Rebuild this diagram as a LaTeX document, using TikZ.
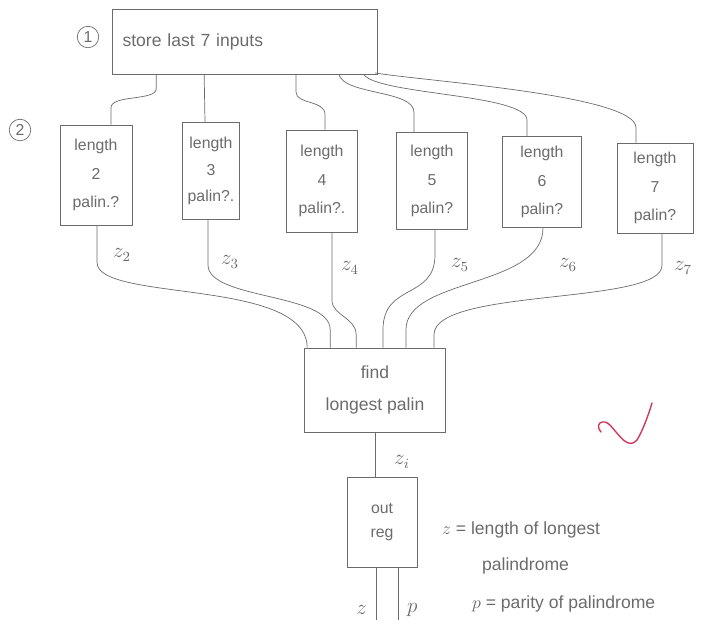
\documentclass[tikz,border=0pt]{standalone}
\usepackage{fontspec}
\setmainfont{Liberation Sans}
\usetikzlibrary{positioning,calc}
\definecolor{pencil}{gray}{0.42}
\definecolor{checkred}{RGB}{205,60,95}

\begin{document}
\begin{tikzpicture}[
  x=0.02cm, y=-0.02cm,
  box/.style={draw=pencil, thin, align=center, text=pencil, font=\small, inner sep=2pt},
  wire/.style={draw=pencil, thin},
  lbl/.style={text=pencil, font=\large, inner sep=1pt},
  num/.style={circle, draw=pencil, thin, text=pencil, font=\small, inner sep=1.5pt},
]
\useasboundingbox (0,0) rectangle (720,627);

% === Step 1: input register ===
\node[box, minimum width=5.3cm, minimum height=1.3cm, text width=4.9cm, align=left, font=\normalsize] (store) at (245,42) {store last 7 inputs\\[10pt]};
\node[num] (one) at (88,37) {1};

% === Step 2: palindrome checkers ===
\node[num] (two) at (20,130) {2};
\node[box, minimum width=1.44cm, minimum height=2.0cm] (len2) at (96,175) {length\\[5pt]2\\[5pt]palin.?};
\node[box, minimum width=1.14cm, minimum height=1.94cm] (len3) at (211,171) {length\\[4pt]3\\[4pt]palin?.};
\node[box, minimum width=1.42cm, minimum height=2.04cm] (len4) at (322,181) {length\\[5pt]4\\[5pt]palin?.};
\node[box, minimum width=1.42cm, minimum height=1.94cm] (len5) at (432,181) {length\\[5pt]5\\[5pt]palin?};
\node[box, minimum width=1.58cm, minimum height=1.82cm] (len6) at (542,182) {length\\[5pt]6\\[5pt]palin?};
\node[box, minimum width=1.52cm, minimum height=1.8cm] (len7) at (655,188) {length\\[5pt]7\\[5pt]palin?};

\draw[wire] ($(store.south west)+(44,0)$) -- ++(0,14) .. controls ++(0,12) and ($(len2.north)+(15,-30)$) .. ($(len2.north)+(15,-17)$) -- ($(len2.north)+(15,0)$);
\draw[wire] ($(store.south west)+(92,0)$) -- ($(len3.north)+(-6,0)$);
\draw[wire] ($(store.south)+(51,0)$) -- ++(0,17) .. controls ++(0,13) and ($(len4.north)+(3,-30)$) .. ($(len4.north)+(3,-15)$) -- ($(len4.north)+(3,0)$);
\draw[wire] ($(store.south)+(94,0)$) .. controls ++(6,20) and ($(len5.north)+(-18,-42)$) .. ($(len5.north)+(-18,-20)$) -- ($(len5.north)+(-18,0)$);
\draw[wire] ($(store.south)+(119,0)$) .. controls ++(16,20) and ($(len6.north)+(-15,-42)$) .. ($(len6.north)+(-15,-16)$) -- ($(len6.north)+(-15,0)$);
\draw[wire] ($(store.south east)+(-3,-2)$) .. controls ++(45,8) and ($(len7.north)+(-19,-48)$) .. ($(len7.north)+(-19,-15)$) -- ($(len7.north)+(-19,0)$);

% === Step 3: pick the longest ===
\node[box, minimum width=2.82cm, minimum height=1.68cm, font=\normalsize] (find) at (375,390) {find\\[6pt]longest palin};

\draw[wire] ($(len2.south)+(1,0)$) -- ++(0,37) .. controls ++(0,40) and ($(find.north west)+(3,-70)$) .. ($(find.north west)+(3,0)$);
\draw[wire] ($(len3.south)+(-3,0)$) -- ++(0,45) .. controls ++(0,35) and ($(find.north west)+(26,-55)$) .. ($(find.north west)+(26,-18)$) -- ($(find.north west)+(26,0)$);
\draw[wire] ($(len4.south)+(10,0)$) -- ++(0,68) .. controls ++(0,15) and ($(find.north west)+(52,-30)$) .. ($(find.north west)+(52,-13)$) -- ($(find.north west)+(52,0)$);
\draw[wire] ($(len5.south)+(3,0)$) -- ++(0,25) .. controls ++(0,45) and ($(find.north)+(8,-65)$) .. ($(find.north)+(8,-18)$) -- ($(find.north)+(8,0)$);
\draw[wire] ($(len6.south)+(1,0)$) .. controls ++(0,60) and ($(find.north)+(31,-70)$) .. ($(find.north)+(31,-18)$) -- ($(find.north)+(31,0)$);
\draw[wire] ($(len7.south)+(7,0)$) -- ++(0,32) .. controls ++(0,40) and ($(find.north)+(59,-60)$) .. ($(find.north)+(59,-13)$) -- ($(find.north)+(59,0)$);

\node[lbl] (z2) at (122,255) {$z_2$};
\node[lbl] (z3) at (230,262) {$z_3$};
\node[lbl] (z4) at (350,268) {$z_4$};
\node[lbl] (z5) at (460,265) {$z_5$};
\node[lbl] (z6) at (568,265) {$z_6$};
\node[lbl] (z7) at (683,268) {$z_7$};

% === Output register ===
\node[box, minimum width=1.4cm, minimum height=1.8cm] (outreg) at (382,522) {out\\[3pt]reg};
\draw[wire] (find.south) -- (find.south |- outreg.north);
\node[lbl] (zi) at (402,462) {$z_i$};

\coordinate (zend) at ($(outreg.south)+(-6,53)$);
\coordinate (pend) at ($(outreg.south)+(16,53)$);
\draw[wire] (outreg.south -| zend) -- (zend);
\draw[wire] (outreg.south -| pend) -- (pend);
\node[lbl, left=4pt of zend, yshift=6pt] (zout) {$z$};
\node[lbl, right=4pt of pend, yshift=6pt] (pout) {$p$};

% === Legend ===
\node[lbl, anchor=west, font=\normalsize] (key1) at (440,530) {$z$ = length of longest};
\node[lbl, anchor=west, font=\normalsize] (key2) at (480,566) {palindrome};
\node[lbl, anchor=west, font=\normalsize] (key3) at (470,604) {$p$ = parity of palindrome};

% === Check mark ===
\draw[checkred, thick, line cap=round] (601,432) .. controls (594,424) and (603,418) .. (610,425) .. controls (620,436) and (628,450) .. (637,440) .. controls (643,430) and (648,416) .. (652,403);

\end{tikzpicture}
\end{document}
